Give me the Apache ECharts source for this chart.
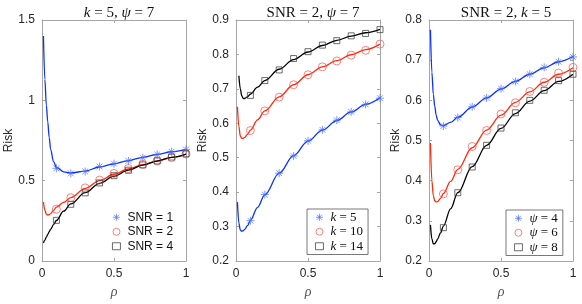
<!DOCTYPE html>
<html><head><meta charset="utf-8">
<script src="https://cdn.jsdelivr.net/npm/echarts@6/dist/echarts.min.js"></script>
<style>html,body{margin:0;padding:0;background:#fff}#c{width:582px;height:304px}</style>
</head><body><div id="c"></div>
<script>
// ---- data ----
const rhoCurve = [0.01,0.02,0.03,0.04,0.05,0.06,0.08,0.1,0.15,0.2,0.3,0.4,0.5,0.6,0.7,0.8,0.9,1.0];
const rhoMarks = [0.1,0.2,0.3,0.4,0.5,0.6,0.7,0.8,0.9,1.0];
const xTicks = [0, 0.5, 1];

// Panel 1: k = 5, psi = 7
const p1Names = ['SNR = 1','SNR = 2','SNR = 4'];
const p1Curve1 = [1.40,1.13,0.97,0.865,0.77,0.695,0.618,0.583,0.555,0.548,0.560,0.585,0.605,0.625,0.645,0.663,0.680,0.695];
const p1Curve2 = [0.367,0.315,0.292,0.286,0.288,0.295,0.315,0.335,0.365,0.395,0.452,0.500,0.540,0.573,0.600,0.623,0.645,0.665];
const p1Curve3 = [0.112,0.130,0.148,0.165,0.182,0.198,0.226,0.252,0.310,0.355,0.425,0.483,0.528,0.565,0.597,0.622,0.645,0.665];
const p1Marks1 = [0.577,0.545,0.557,0.588,0.606,0.623,0.643,0.663,0.680,0.694];
const p1Marks2 = [0.323,0.394,0.455,0.504,0.545,0.576,0.602,0.623,0.643,0.667];
const p1Marks3 = [0.253,0.353,0.424,0.486,0.531,0.565,0.598,0.623,0.647,0.667];

// Panel 2: SNR = 2, psi = 7
const p2Names = ['k = 5','k = 10','k = 14'];
const p2Curve1 = [0.371,0.310,0.290,0.286,0.288,0.292,0.303,0.318,0.356,0.392,0.455,0.506,0.548,0.580,0.608,0.633,0.655,0.674];
const p2Curve2 = [0.648,0.590,0.563,0.556,0.556,0.559,0.568,0.580,0.610,0.636,0.677,0.712,0.741,0.764,0.782,0.799,0.814,0.830];
const p2Curve3 = [null,0.738,0.700,0.680,0.672,0.672,0.677,0.685,0.705,0.724,0.757,0.785,0.807,0.826,0.841,0.853,0.863,0.873];
const p2Marks1 = [0.317,0.393,0.455,0.505,0.549,0.581,0.609,0.633,0.655,0.673];
const p2Marks2 = [0.579,0.636,0.676,0.712,0.741,0.764,0.781,0.798,0.812,0.830];
const p2Marks3 = [0.681,0.724,0.755,0.788,0.808,0.827,0.840,0.854,0.861,0.872];

// Panel 3: SNR = 2, k = 5
const p3Names = ['ψ = 4','ψ = 6','ψ = 8'];
const p3Curve1 = [0.776,0.670,0.615,0.585,0.563,0.550,0.539,0.537,0.545,0.558,0.583,0.606,0.628,0.647,0.665,0.681,0.696,0.709];
const p3Curve2 = [0.494,0.400,0.362,0.350,0.347,0.348,0.356,0.368,0.398,0.428,0.482,0.526,0.563,0.595,0.621,0.645,0.665,0.681];
const p3Curve3 = [0.290,0.255,0.243,0.243,0.248,0.255,0.270,0.287,0.330,0.370,0.435,0.488,0.530,0.567,0.598,0.624,0.647,0.665];
const p3Marks1 = [0.536,0.557,0.584,0.606,0.629,0.647,0.665,0.682,0.696,0.708];
const p3Marks2 = [0.367,0.427,0.485,0.525,0.566,0.594,0.622,0.645,0.668,0.682];
const p3Marks3 = [0.283,0.370,0.434,0.488,0.531,0.569,0.600,0.625,0.649,0.665];

const yRanges = [[0,1.5,0.5],[0.2,0.9,0.1],[0.2,0.8,0.1]];
const titles = ['{i|k} = 5, {i|ψ} = 7', 'SNR = 2, {i|ψ} = 7', 'SNR = 2, {i|k} = 5'];

// ---- style ----
const lineColors = ['#0a32ff','#ff2a0a','#000000'];
const markColors = ['#4a6cff','#ff5050','#333333'];
const asterisk = 'path://M0,-5L0,5M-5,0L5,0M-3.6,-3.6L3.6,3.6M-3.6,3.6L3.6,-3.6';
const symbols = [asterisk, 'circle', 'rect'];
const symSizes = [8, 8, 6];
const legSizes = [7, 8, 6];
const lefts = [42, 236, 429];
const plotW = 144, plotTop = 20, plotH = 245;
const axisCol = '#a6a6a6', txtCol = '#262626';
const sans = 'Liberation Sans, Arial, sans-serif';
const serif = 'Liberation Serif, DejaVu Serif, serif';

const panels = [
  {names:p1Names, curves:[p1Curve1,p1Curve2,p1Curve3], marks:[p1Marks1,p1Marks2,p1Marks3]},
  {names:p2Names, curves:[p2Curve1,p2Curve2,p2Curve3], marks:[p2Marks1,p2Marks2,p2Marks3]},
  {names:p3Names, curves:[p3Curve1,p3Curve2,p3Curve3], marks:[p3Marks1,p3Marks2,p3Marks3]}
];

const grid=[], xAxis=[], yAxis=[], series=[], title=[], legend=[];
panels.forEach((p, gi) => {
  grid.push({left:lefts[gi], top:plotTop, width:plotW, height:plotH, containLabel:false});
  const [ymin,ymax,yint] = yRanges[gi];
  const baseX = {type:'value', gridIndex:gi, min:0, max:1, interval:0.5, splitLine:{show:false},
    axisLine:{show:true, onZero:false, lineStyle:{color:axisCol, width:1}},
    axisTick:{show:true, inside:true, length:3, lineStyle:{color:axisCol}}};
  xAxis.push(Object.assign({}, baseX, {position:'bottom',
    axisLabel:{show:true, margin:7, fontSize:12, color:txtCol, fontFamily:sans},
    name:'ρ', nameLocation:'middle', nameGap:24,
    nameTextStyle:{fontFamily:serif, fontStyle:'italic', fontSize:14, color:'#555'}}));
  xAxis.push(Object.assign({}, baseX, {position:'top', axisLabel:{show:false}}));
  const baseY = {type:'value', gridIndex:gi, min:ymin, max:ymax, interval:yint, splitLine:{show:false},
    axisLine:{show:true, onZero:false, lineStyle:{color:axisCol, width:1}},
    axisTick:{show:true, inside:true, length:3, lineStyle:{color:axisCol}}};
  yAxis.push(Object.assign({}, baseY, {position:'left',
    axisLabel:{show:true, margin:7, fontSize:12, color:txtCol, fontFamily:sans},
    name:'Risk', nameLocation:'middle', nameGap:26,
    nameTextStyle:{fontFamily:sans, fontSize:12, color:txtCol}}));
  yAxis.push(Object.assign({}, baseY, {position:'right', axisLabel:{show:false}}));

  for (let s=0; s<3; s++) {
    series.push({type:'line', name:'curve'+gi+s, xAxisIndex:gi*2, yAxisIndex:gi*2,
      data: rhoCurve.map((r,i)=>[r, p.curves[s][i]]).filter(d=>d[1]!==null),
      showSymbol:false, symbol:'none', smooth:0.35, smoothMonotone:'x',
      lineStyle:{color:lineColors[s], width:1.3}, z:2, silent:true, animation:false});
  }
  for (let s=0; s<3; s++) {
    series.push({type:'scatter', name:p.names[s], xAxisIndex:gi*2, yAxisIndex:gi*2,
      data: rhoMarks.map((r,i)=>[r, p.marks[s][i]]),
      symbol:symbols[s], symbolSize:symSizes[s],
      itemStyle:{color:'rgba(0,0,0,0)', borderColor:markColors[s], borderWidth:0.9},
      z:3, animation:false});
  }
  title.push({text:titles[gi], left:lefts[gi]+plotW/2, textAlign:'center', top:1,
    textStyle:{fontFamily:serif, fontSize:15, fontWeight:'normal', color:'#111',
      rich:{i:{fontFamily:serif, fontSize:15, fontStyle:'italic', color:'#111'}}}});
});

const legendText = (name) => {
  if (name.startsWith('SNR')) return name;
  const parts = name.split(' = ');
  return '{i|' + parts[0] + '} {n|= ' + parts[1] + '}';
};
const legPos = [[108,209,false],[307,209,true],[506,210,true]];
panels.forEach((p, gi) => {
  const [lx, ly, box] = legPos[gi];
  legend.push({data:p.names.map((n,s)=>({name:n, icon:symbols[s],
      itemStyle:{color:'rgba(0,0,0,0)', borderColor:markColors[s], borderWidth:0.9}})),
    orient:'vertical', left:lx, top:ly,
    itemWidth:8, itemHeight:7, itemGap:0,
    padding: box ? [1,5,1,8] : [1,5,1,4],
    borderColor: box ? '#555' : 'transparent', borderWidth: box ? 0.8 : 0,
    backgroundColor: box ? '#fff' : 'transparent', selectedMode:false,
    formatter: legendText,
    textStyle:{fontFamily: gi===0 ? sans : serif, fontSize: gi===0?12:13, color:'#111', lineHeight:14.5, padding:[0,0,0,2],
      rich:{i:{fontFamily:serif, fontStyle:'italic', fontSize:13, color:'#111', lineHeight:14.5},
            n:{fontFamily:serif, fontSize:13, color:'#111', lineHeight:14.5}}}});
});

const chart = echarts.init(document.getElementById('c'), null, {renderer:'canvas'});
chart.setOption({animation:false, backgroundColor:'#fff', title, grid, xAxis, yAxis, series, legend});
</script></body></html>
